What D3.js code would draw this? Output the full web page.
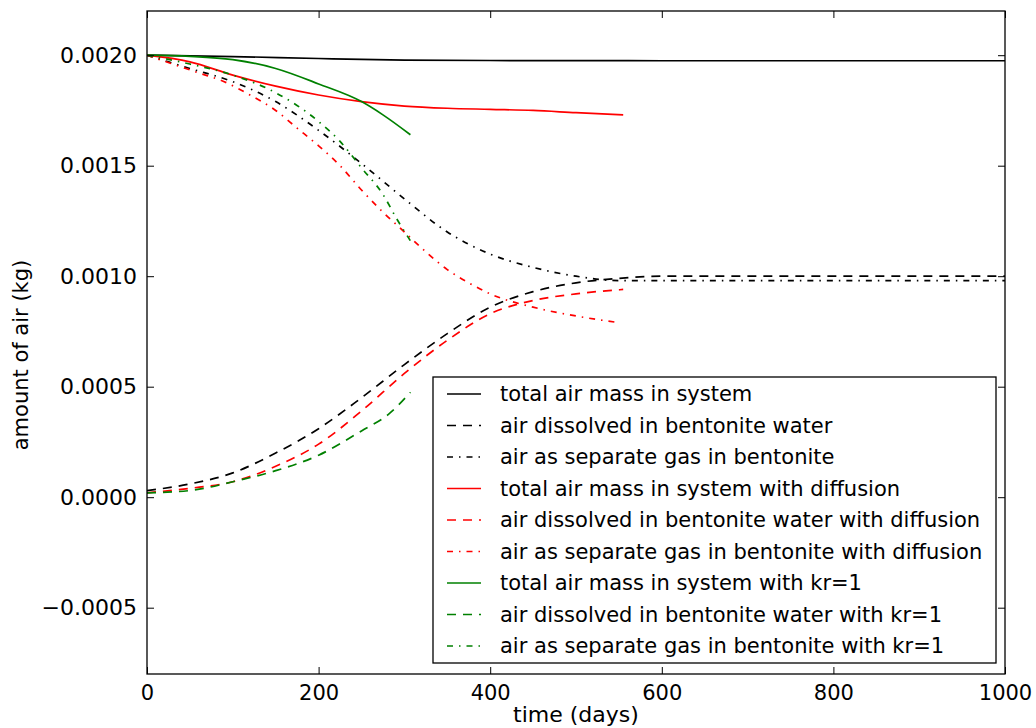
<!DOCTYPE html>
<html>
<head>
<meta charset="utf-8">
<script src="https://cdn.jsdelivr.net/npm/d3@7"></script>
<style>
  body { margin: 0; background: #fff; }
  svg text { font-family: "DejaVu Sans", sans-serif; fill: #000; }
</style>
</head>
<body>
<svg id="chart" width="1036" height="728"></svg>
<script>
// data (time in days, amount in kg)
const xTicks = [0, 200, 400, 600, 800, 1000];
const yTicks = [-0.0005, 0.0000, 0.0005, 0.0010, 0.0015, 0.0020];

const totalT   = [0, 100, 200, 300, 400, 600, 800, 1000];
const totalV   = [0.0020, 0.001994, 0.001985, 0.001978, 0.001976, 0.001975, 0.001975, 0.001975];
const dissT    = [0, 50, 100, 150, 200, 250, 300, 350, 400, 450, 500, 550, 600, 800, 1000];
const dissV    = [0.00003, 0.00006, 0.00011, 0.00020, 0.00031, 0.00045, 0.00060, 0.00074, 0.00086, 0.00093, 0.00097, 0.00099, 0.00100, 0.00100, 0.00100];
const gasT     = [0, 50, 100, 150, 200, 250, 300, 350, 400, 450, 500, 550, 600, 800, 1000];
const gasV     = [0.0020, 0.00194, 0.00188, 0.00179, 0.00166, 0.00151, 0.00135, 0.00120, 0.00110, 0.00104, 0.00100, 0.00098, 0.00098, 0.00098, 0.00098];

const totalDiffT = [0, 50, 100, 150, 200, 250, 300, 350, 400, 450, 500, 555];
const totalDiffV = [0.0020, 0.00197, 0.00191, 0.00186, 0.00182, 0.00179, 0.00177, 0.00176, 0.001755, 0.00175, 0.00174, 0.00173];
const dissDiffT  = [0, 50, 100, 150, 200, 250, 300, 350, 400, 450, 500, 555];
const dissDiffV  = [0.00002, 0.00004, 0.00007, 0.00014, 0.00024, 0.00039, 0.00056, 0.00071, 0.00083, 0.00089, 0.00092, 0.00094];
const gasDiffT   = [0, 30, 60, 90, 120, 150, 175, 200, 225, 250, 275, 300, 325, 350, 375, 400, 450, 500, 550];
const gasDiffV   = [0.0020, 0.00196, 0.00192, 0.00188, 0.00182, 0.00175, 0.00167, 0.00159, 0.00150, 0.00139, 0.00129, 0.00120, 0.00111, 0.00103, 0.00097, 0.00092, 0.00086, 0.00082, 0.00079];

const totalKrT = [0, 50, 100, 150, 200, 250, 275, 307];
const totalKrV = [0.0020, 0.001995, 0.00198, 0.00194, 0.00187, 0.00179, 0.00173, 0.00164];
const dissKrT  = [0, 50, 100, 150, 200, 250, 283, 307];
const dissKrV  = [0.00002, 0.00003, 0.00007, 0.00012, 0.00019, 0.00030, 0.00038, 0.000475];
const gasKrT   = [0, 50, 100, 150, 200, 225, 250, 275, 291, 307];
const gasKrV   = [0.0020, 0.00196, 0.00191, 0.00183, 0.00170, 0.00161, 0.00149, 0.00137, 0.00126, 0.00116];

const labels = [
  "total air mass in system",
  "air dissolved in bentonite water",
  "air as separate gas in bentonite",
  "total air mass in system with diffusion",
  "air dissolved in bentonite water with diffusion",
  "air as separate gas in bentonite with diffusion",
  "total air mass in system with kr=1",
  "air dissolved in bentonite water with kr=1",
  "air as separate gas in bentonite with kr=1"
];
const colors = ["#000000", "#000000", "#000000", "#ff0000", "#ff0000", "#ff0000", "#008000", "#008000", "#008000"];
const styles = ["solid", "dashed", "dashdot", "solid", "dashed", "dashdot", "solid", "dashed", "dashdot"];

const seriesT = [totalT, dissT, gasT, totalDiffT, dissDiffT, gasDiffT, totalKrT, dissKrT, gasKrT];
const seriesV = [totalV, dissV, gasV, totalDiffV, dissDiffV, gasDiffV, totalKrV, dissKrV, gasKrV];

const dashes = { solid: null, dashed: "9,7", dashdot: "6,6,1.5,6" };

const svg = d3.select("#chart");
const width = +svg.attr("width");
const height = +svg.attr("height");
const margin = { top: 11, right: 31, bottom: 54, left: 147 };

const x = d3.scaleLinear().domain([0, 1000]).range([margin.left, width - margin.right]);
const y = d3.scaleLinear().domain([-0.0008, 0.0022]).range([height - margin.bottom, margin.top]);

// lines
const line = d3.line()
  .x(d => x(d[0]))
  .y(d => y(d[1]))
  .curve(d3.curveMonotoneX);

svg.append("defs").append("clipPath").attr("id", "clip")
  .append("rect")
  .attr("x", margin.left).attr("y", margin.top)
  .attr("width", x.range()[1] - margin.left)
  .attr("height", y.range()[0] - margin.top);

const plot = svg.append("g").attr("clip-path", "url(#clip)");
seriesT.forEach((ts, i) => {
  const pts = ts.map((t, j) => [t, seriesV[i][j]]);
  plot.append("path")
    .datum(pts)
    .attr("d", line)
    .attr("fill", "none")
    .attr("stroke", colors[i])
    .attr("stroke-width", 1.7)
    .attr("stroke-dasharray", dashes[styles[i]]);
});

// axes, ticks pointing inward on all four sides
const tickLen = 7;
const fmtY = d3.format(".4f");

const xAxisB = svg.append("g")
  .attr("transform", `translate(0,${y.range()[0]})`)
  .call(d3.axisBottom(x).tickValues(xTicks).tickSizeInner(-tickLen).tickSizeOuter(0).tickPadding(11).tickFormat(d3.format("d")));
const xAxisT = svg.append("g")
  .attr("transform", `translate(0,${margin.top})`)
  .call(d3.axisTop(x).tickValues(xTicks).tickSizeInner(-tickLen).tickSizeOuter(0).tickFormat(""));
const yAxisL = svg.append("g")
  .attr("transform", `translate(${margin.left},0)`)
  .call(d3.axisLeft(y).tickValues(yTicks).tickSizeInner(-tickLen).tickSizeOuter(0).tickPadding(10).tickFormat(fmtY));
const yAxisR = svg.append("g")
  .attr("transform", `translate(${x.range()[1]},0)`)
  .call(d3.axisRight(y).tickValues(yTicks).tickSizeInner(-tickLen).tickSizeOuter(0).tickFormat(""));

[xAxisB, xAxisT, yAxisL, yAxisR].forEach(g => {
  g.select(".domain").remove();
  g.selectAll(".tick line").attr("stroke", "#000").attr("stroke-width", 1);
  g.selectAll("text").attr("font-family", "DejaVu Sans").attr("fill", "#000");
});
xAxisB.selectAll("text").attr("font-size", 21);
yAxisL.selectAll("text").attr("font-size", 22);

// frame
svg.append("rect")
  .attr("x", margin.left).attr("y", margin.top)
  .attr("width", x.range()[1] - margin.left)
  .attr("height", y.range()[0] - margin.top)
  .attr("fill", "none")
  .attr("stroke", "#000")
  .attr("stroke-width", 1.3);

// axis labels
svg.append("text")
  .attr("x", (x.range()[0] + x.range()[1]) / 2)
  .attr("y", 722)
  .attr("text-anchor", "middle")
  .attr("font-size", 22)
  .text("time (days)");

svg.append("text")
  .attr("transform", "translate(28,355) rotate(-90)")
  .attr("text-anchor", "middle")
  .attr("font-size", 21)
  .text("amount of air (kg)");

// legend
const legend = svg.append("g").attr("transform", "translate(433,377)");
legend.append("rect")
  .attr("width", 563).attr("height", 286)
  .attr("fill", "#fff")
  .attr("stroke", "#000")
  .attr("stroke-width", 1.3);

labels.forEach((lab, i) => {
  const cy = 17 + i * 31.5;
  legend.append("line")
    .attr("x1", 14).attr("x2", 48)
    .attr("y1", cy).attr("y2", cy)
    .attr("stroke", colors[i])
    .attr("stroke-width", 1.7)
    .attr("stroke-dasharray", dashes[styles[i]]);
  legend.append("text")
    .attr("x", 67).attr("y", cy)
    .attr("dy", "0.35em")
    .attr("font-size", 21)
    .text(lab);
});
</script>
</body>
</html>
